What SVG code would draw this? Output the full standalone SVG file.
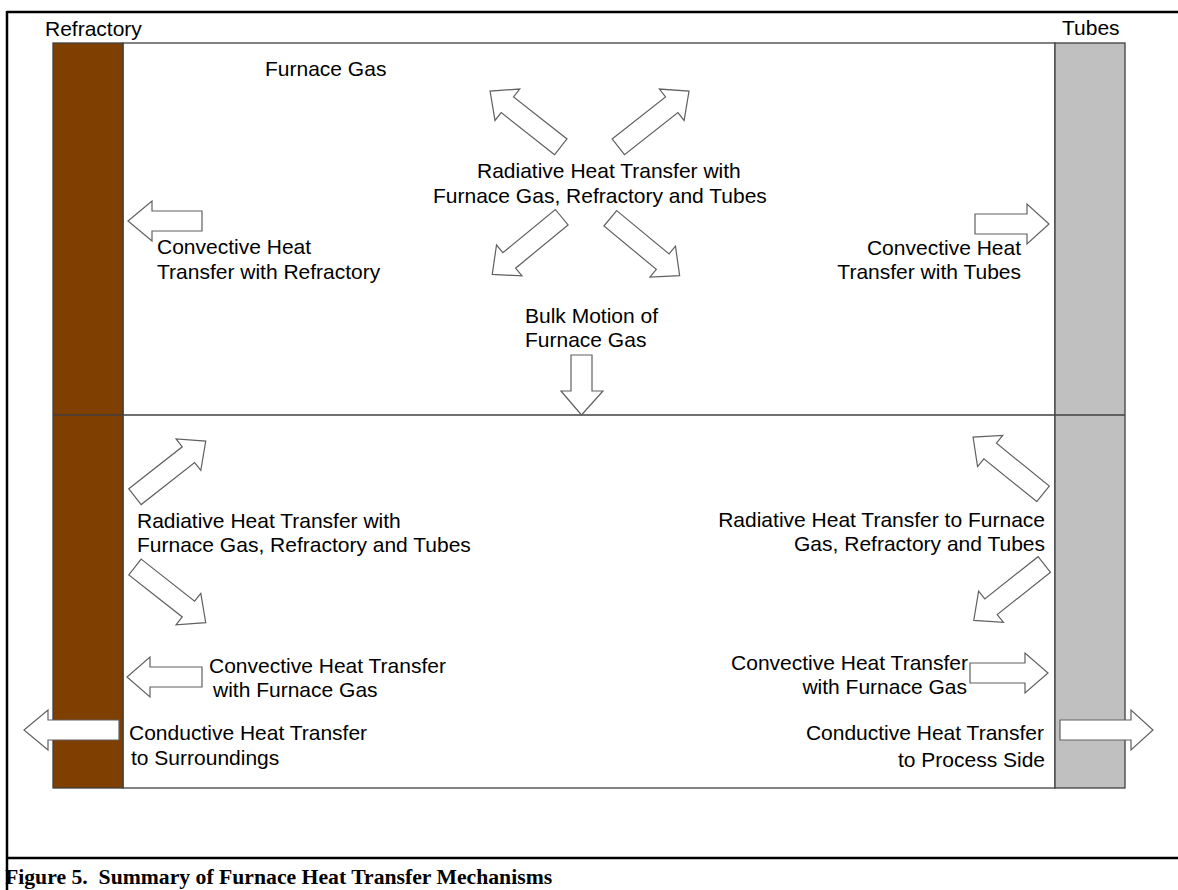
<svg xmlns="http://www.w3.org/2000/svg" xmlns:xlink="http://www.w3.org/1999/xlink" width="1178" height="890" viewBox="0 0 1178 890">
<style>
  .t { font-family: "Liberation Sans", Arial, sans-serif; font-size: 21px; fill: #000; }
  .r { text-anchor: end; }
  .arr { fill: #fff; stroke: #606060; stroke-width: 1.2; stroke-linejoin: miter; }
  .frame { stroke: #000; stroke-width: 2.5; fill: none; }
  .ln { stroke: #404040; stroke-width: 1.3; fill: none; }
  .cap { font-family: "Liberation Serif", "Times New Roman", serif; font-size: 21.7px; font-weight: bold; fill: #000; }
</style>
<defs>
  <polygon id="darr" points="0,-10 68,-10 68,-20 90,0 68,20 68,10 0,10"/>
</defs>
<rect width="1178" height="890" fill="#fff"/>

<g id="frame">
  <line class="frame" x1="7" y1="12" x2="1178" y2="12"/>
  <line class="frame" x1="7" y1="11" x2="7" y2="890"/>
  <line class="frame" x1="6" y1="858" x2="1178" y2="858"/>
</g>

<g id="furnace-box">
  <rect x="123" y="43" width="932" height="745" fill="#fff" stroke="#404040" stroke-width="1.3"/>
</g>
<g id="refractory">
  <rect x="53" y="43" width="70" height="745" fill="#7f3f00" stroke="#404040" stroke-width="1.3"/>
  <text class="t" x="45" y="36">Refractory</text>
</g>
<g id="tubes">
  <rect x="1055" y="43" width="70" height="745" fill="#c0c0c0" stroke="#404040" stroke-width="1.3"/>
  <text class="t" x="1062" y="35">Tubes</text>
</g>
<g id="divider">
  <line class="ln" x1="53" y1="415" x2="1125" y2="415"/>
</g>

<g id="connectors">
  <!-- upper section -->
  <polygon class="arr" points="202,211 152,211 152,201 128,221 152,241 152,231 202,231"/>
  <polygon class="arr" points="975,214 1027,214 1027,204 1049,224 1027,244 1027,234 975,234"/>
  <use href="#darr" class="arr" transform="translate(560.8,146.8) rotate(218.2)"/>
  <use href="#darr" class="arr" transform="translate(618.3,146.8) rotate(-38.2)"/>
  <use href="#darr" class="arr" transform="translate(561.7,217.2) rotate(140.5)"/>
  <use href="#darr" class="arr" transform="translate(610.3,218.3) rotate(39.6)"/>
  <polygon class="arr" points="571,355 592,355 592,391 603,391 581.5,415 561,391 571,391"/>
  <!-- lower left -->
  <use href="#darr" class="arr" transform="translate(135,496.7) rotate(-38.2)"/>
  <use href="#darr" class="arr" transform="translate(135,567) rotate(38.2)"/>
  <polygon class="arr" points="202,667 150,667 150,657 127,677 150,697 150,687 202,687"/>
  <polygon class="arr" points="119,720 48,720 48,710 24,730 48,750 48,740 119,740"/>
  <!-- lower right -->
  <use href="#darr" class="arr" transform="translate(1043,493.8) rotate(219)"/>
  <use href="#darr" class="arr" transform="translate(1044.3,564.5) rotate(141.6)"/>
  <polygon class="arr" points="970,663 1025,663 1025,653 1048,673 1025,693 1025,683 970,683"/>
  <polygon class="arr" points="1060,720 1131,720 1131,710 1153,730 1131,750 1131,740 1060,740"/>
</g>

<g id="furnace-gas">
  <text class="t" x="265" y="76">Furnace Gas</text>
</g>
<g id="rad-center">
  <text class="t" x="477" y="178">Radiative Heat Transfer with</text>
  <text class="t" x="433" y="203">Furnace Gas, Refractory and Tubes</text>
</g>
<g id="conv-refractory">
  <text class="t" x="157" y="254">Convective Heat</text>
  <text class="t" x="157" y="279">Transfer with Refractory</text>
</g>
<g id="conv-tubes">
  <text class="t r" x="1021" y="255">Convective Heat</text>
  <text class="t r" x="1021" y="279">Transfer with Tubes</text>
</g>
<g id="bulk-motion">
  <text class="t" x="525" y="323">Bulk Motion of</text>
  <text class="t" x="525" y="347">Furnace Gas</text>
</g>
<g id="rad-refractory">
  <text class="t" x="137" y="528">Radiative Heat Transfer with</text>
  <text class="t" x="137" y="552">Furnace Gas, Refractory and Tubes</text>
</g>
<g id="rad-tubes">
  <text class="t r" x="1045" y="527">Radiative Heat Transfer to Furnace</text>
  <text class="t r" x="1045" y="551">Gas, Refractory and Tubes</text>
</g>
<g id="conv-refractory-gas">
  <text class="t" x="209" y="673">Convective Heat Transfer</text>
  <text class="t" x="213" y="697">with Furnace Gas</text>
</g>
<g id="conv-tubes-gas">
  <text class="t r" x="968" y="670">Convective Heat Transfer</text>
  <text class="t r" x="967" y="694">with Furnace Gas</text>
</g>
<g id="cond-surroundings">
  <text class="t" x="129" y="740">Conductive Heat Transfer</text>
  <text class="t" x="131" y="765">to Surroundings</text>
</g>
<g id="cond-process">
  <text class="t r" x="1044" y="740">Conductive Heat Transfer</text>
  <text class="t r" x="1045" y="767">to Process Side</text>
</g>
<g id="caption">
  <text class="cap" x="5" y="884" xml:space="preserve">Figure 5.  Summary of Furnace Heat Transfer Mechanisms</text>
</g>
</svg>
